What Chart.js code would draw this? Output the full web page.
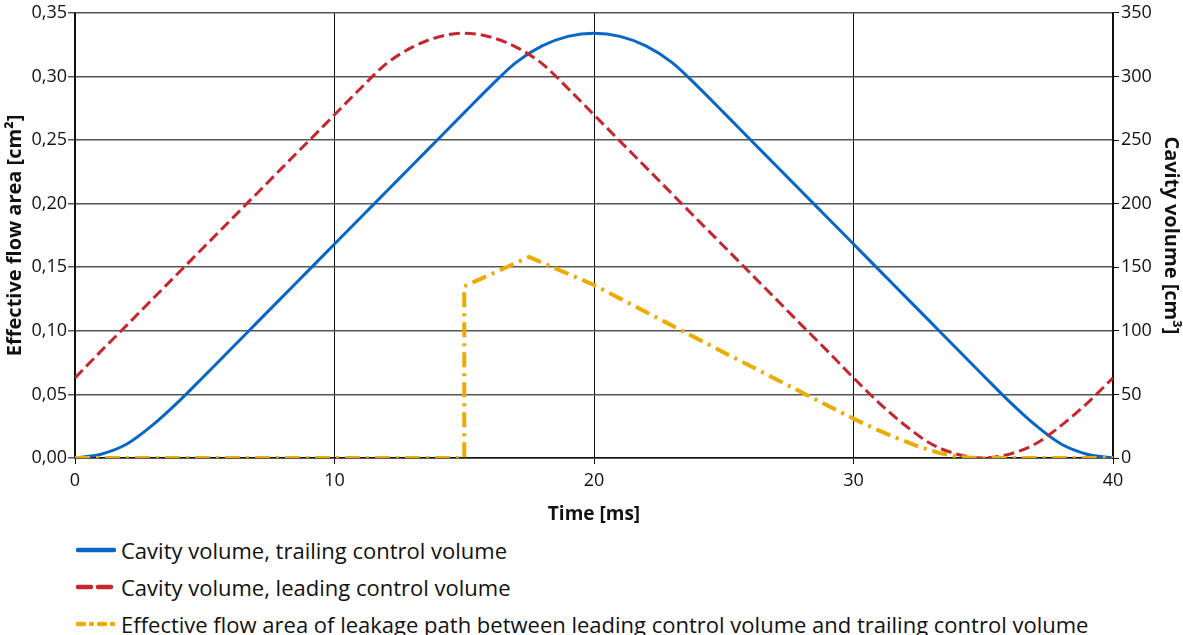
<!DOCTYPE html>
<html>
<head>
<meta charset="utf-8">
<title>Cavity volume and leakage flow area</title>
<script src="https://cdn.jsdelivr.net/npm/chart.js"></script>
<style>
  body { margin: 0; background: #fff; font-family: "Open Sans", sans-serif; }
  #wrap { position: relative; width: 1183px; height: 635px; }
  #box { position: absolute; left: 0; top: 0; width: 1183px; height: 530px; }
  #legend { position: absolute; left: 76px; top: 531px; }
  .row { height: 37px; display: flex; align-items: center; font-size: 22px; color: #111; white-space: nowrap; }
  .row svg { margin-right: 5px; }
</style>
</head>
<body>
<div id="wrap">
  <div id="box"><canvas id="chart" width="1183" height="530"></canvas></div>
  <div id="legend"></div>
</div>
<script>
const timeMs = [0, 1, 2, 3, 4, 5, 6, 7, 8, 9, 10, 11, 12, 13, 14, 15, 16, 17, 18, 19, 20,
  21, 22, 23, 24, 25, 26, 27, 28, 29, 30, 31, 32, 33, 34, 35, 36, 37, 38, 39, 40];
const trailingVolume = [0, 3, 11, 26, 44.5, 64.9, 85.5, 106.2, 126.9, 147.5, 168.2, 188.9, 209.5, 230.2, 250.8, 271.5, 292, 311, 324, 331.5, 334,
  331.5, 324, 311, 292, 271.5, 250.8, 230.2, 209.5, 188.9, 168.2, 147.5, 126.9, 106.2, 85.5, 64.9, 44.5, 26, 11, 3, 0];
const leadingVolume = [63, 84, 104.5, 125.2, 145.8, 166.5, 187.1, 207.8, 228.5, 249.1, 269.8, 290.5, 310, 323, 331, 334, 331, 323, 310, 290.5, 269.8,
  249.1, 228.5, 207.8, 187.1, 166.5, 145.8, 125.2, 104.5, 84, 63, 43, 25.5, 11, 3, 0, 3, 11, 25.5, 43, 63];
const leakTime = [0, 15, 15, 17.5, 20, 25, 29.5, 30.5, 31.5, 32.5, 33.3, 34, 34.6, 40];
const leakArea = [0, 0, 0.135, 0.158, 0.136, 0.083, 0.036, 0.026, 0.017, 0.009, 0.004, 0.0012, 0, 0];

const xTicks = [0, 10, 20, 30, 40];

const pts = (xs, ys) => xs.map((x, i) => ({ x: x, y: ys[i] }));

const FONT = '"Open Sans", sans-serif';
const blue = '#0866c6';
const red = '#c8262f';
const yellow = '#ecab00';

const ctx = document.getElementById('chart').getContext('2d');
const chart = new Chart(ctx, {
  type: 'line',
  data: {
    datasets: [
      {
        label: 'Cavity volume, trailing control volume',
        data: pts(timeMs, trailingVolume),
        yAxisID: 'yVol',
        borderColor: blue,
        borderWidth: 3,
        cubicInterpolationMode: 'monotone',
        pointRadius: 0,
        order: 2
      },
      {
        label: 'Cavity volume, leading control volume',
        data: pts(timeMs, leadingVolume),
        yAxisID: 'yVol',
        borderColor: red,
        borderWidth: 3,
        borderDash: [11, 5],
        cubicInterpolationMode: 'monotone',
        pointRadius: 0,
        order: 1
      },
      {
        label: 'Effective flow area of leakage path between leading control volume and trailing control volume',
        data: pts(leakTime, leakArea),
        yAxisID: 'yArea',
        borderColor: yellow,
        borderWidth: 4,
        borderDash: [15, 6, 3, 6],
        tension: 0,
        pointRadius: 0,
        order: 0
      }
    ]
  },
  options: {
    responsive: false,
    animation: false,
    layout: { padding: { top: 4, left: 0, right: 0, bottom: 0 } },
    plugins: {
      legend: { display: false },
      tooltip: { enabled: false }
    },
    scales: {
      x: {
        type: 'linear',
        min: 0,
        max: 40,
        afterBuildTicks: (s) => { s.ticks = xTicks.map(v => ({ value: v })); },
        ticks: { font: { family: FONT, size: 18 }, color: '#111', padding: 6 },
        grid: { color: '#111', lineWidth: 1, tickLength: 6 },
        border: { color: '#111', width: 1.5 },
        title: { display: true, text: 'Time [ms]', font: { family: FONT, size: 19, weight: 'bold' }, color: '#111', padding: { top: 2 } },
        afterFit: (s) => { s.height = 72; }
      },
      yArea: {
        type: 'linear',
        position: 'left',
        min: 0,
        max: 0.35,
        ticks: {
          stepSize: 0.05,
          font: { family: FONT, size: 18 },
          color: '#111',
          padding: 1,
          callback: (v) => v.toFixed(2).replace('.', ',')
        },
        grid: { color: '#555', lineWidth: 1.5, tickLength: 7 },
        border: { color: '#111', width: 1.5 },
        title: { display: true, text: 'Effective flow area [cm²]', font: { family: FONT, size: 20, weight: 'bold' }, color: '#111', padding: { top: 3, bottom: 0 } },
        afterFit: (s) => { s.width = 75; }
      },
      yVol: {
        type: 'linear',
        position: 'right',
        min: 0,
        max: 350,
        ticks: { stepSize: 50, font: { family: FONT, size: 18 }, color: '#111', padding: 2 },
        grid: { drawOnChartArea: false, color: '#111', tickLength: 6 },
        border: { color: '#111', width: 1.5 },
        title: { display: true, text: 'Cavity volume [cm³]', font: { family: FONT, size: 20, weight: 'bold' }, color: '#111', padding: 0 },
        afterFit: (s) => { s.width = 70; }
      }
    }
  }
});

// legend below the chart, built from the datasets
const legend = document.getElementById('legend');
const samples = [
  '<line x1="2" y1="5" x2="38" y2="5" stroke="' + blue + '" stroke-width="4.5" stroke-linecap="round"/>',
  '<line x1="2" y1="5" x2="38" y2="5" stroke="' + red + '" stroke-width="4.5" stroke-dasharray="13 7" stroke-linecap="round"/>',
  '<line x1="2" y1="5" x2="38" y2="5" stroke="' + yellow + '" stroke-width="4.5" stroke-dasharray="6 7 1 7" stroke-linecap="round"/>'
];
chart.data.datasets.forEach((ds, i) => {
  const row = document.createElement('div');
  row.className = 'row';
  row.innerHTML = '<svg width="40" height="10">' + samples[i] + '</svg><span>' + ds.label + '</span>';
  legend.appendChild(row);
});
</script>
</body>
</html>
